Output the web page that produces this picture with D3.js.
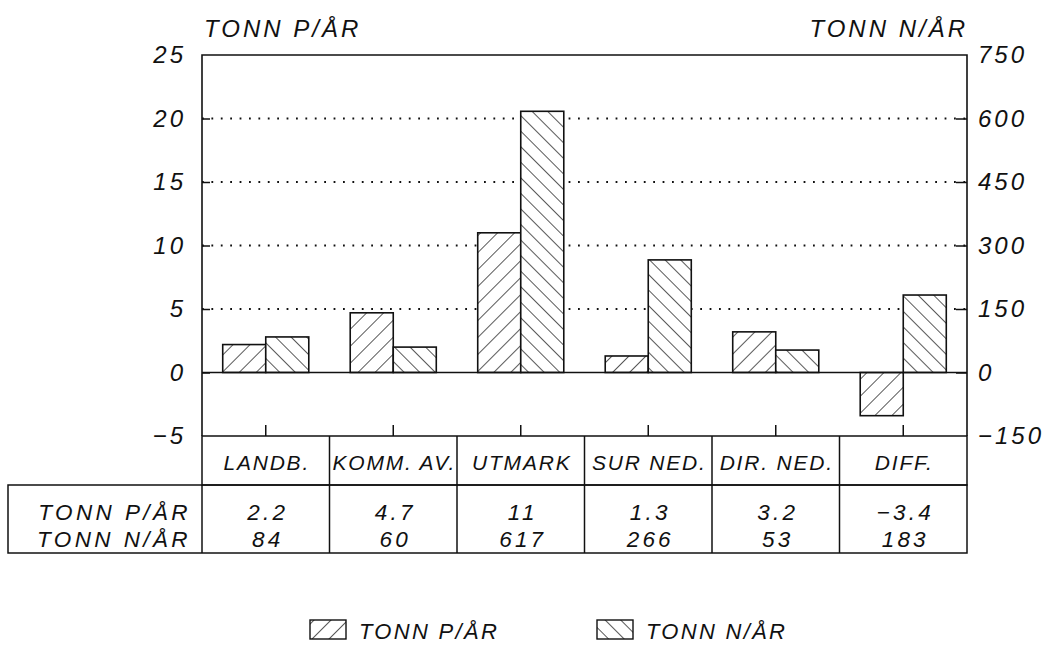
<!DOCTYPE html>
<html><head><meta charset="utf-8">
<script src="https://cdn.jsdelivr.net/npm/d3@7"></script>
<style>
body{margin:0;background:#fff;}
text{font-family:"Liberation Sans",Arial,sans-serif;font-style:italic;fill:#111;}
</style></head><body>
<svg id="c" width="1057" height="662"></svg>
<script>
const categories = ["LANDB.","KOMM. AV.","UTMARK","SUR NED.","DIR. NED.","DIFF."];
const seriesNames = ["TONN P/ÅR","TONN N/ÅR"];
const pValues = [2.2, 4.7, 11, 1.3, 3.2, -3.4];
const nValues = [84, 60, 617, 266, 53, 183];
const pLabels = ["2.2","4.7","11","1.3","3.2","−3.4"];
const nLabels = ["84","60","617","266","53","183"];
const pTicks = [-5,0,5,10,15,20,25];
const nTicks = [-150,0,150,300,450,600,750];
const gridTicks = [5,10,15,20];

const svg = d3.select("#c");
const L=202, R=967, T=55, B=436;
const yP = d3.scaleLinear().domain([-5,25]).range([B,T]);
const yN = d3.scaleLinear().domain([-150,750]).range([B,T]);
const x0 = d3.scaleBand().domain(categories).range([L,R]).paddingInner(0.325).paddingOuter(0.1625);
const x1 = d3.scaleBand().domain(["P","N"]).range([0,x0.bandwidth()]);
const step = x0.step();
const colLeft = d => x0(d) - x0.paddingInner()*step/2;

// patterns
const defs = svg.append("defs");
function hatch(id, angle, gap){
  const p = defs.append("pattern").attr("id",id).attr("patternUnits","userSpaceOnUse")
    .attr("width",gap).attr("height",gap).attr("patternTransform",`rotate(${angle})`);
  p.append("rect").attr("width",gap).attr("height",gap).attr("fill","#fff");
  p.append("line").attr("x1",0).attr("y1",-1).attr("x2",0).attr("y2",gap+1)
    .attr("stroke","#111").attr("stroke-width",1.4);
}
hatch("hp",45,12);
hatch("hn",-45,11);

// grid
svg.append("g").selectAll("line").data(gridTicks).join("line")
  .attr("x1",L).attr("x2",R).attr("y1",d=>yP(d)).attr("y2",d=>yP(d))
  .attr("stroke","#111").attr("stroke-width",1.8).attr("stroke-dasharray","1.8,7.6");

// bars
const g = svg.append("g");
const rows = categories.map((c,i)=>({c, p:pValues[i], n:nValues[i]}));
g.selectAll("rect.p").data(rows).join("rect").attr("class","p")
  .attr("x",d=>x0(d.c)+x1("P")).attr("width",x1.bandwidth())
  .attr("y",d=>yP(Math.max(0,d.p))).attr("height",d=>Math.abs(yP(d.p)-yP(0)))
  .attr("fill","url(#hp)").attr("stroke","#111").attr("stroke-width",1.6);
g.selectAll("rect.n").data(rows).join("rect").attr("class","n")
  .attr("x",d=>x0(d.c)+x1("N")).attr("width",x1.bandwidth())
  .attr("y",d=>yN(Math.max(0,d.n))).attr("height",d=>Math.abs(yN(d.n)-yN(0)))
  .attr("fill","url(#hn)").attr("stroke","#111").attr("stroke-width",1.6);

// zero line
svg.append("line").attr("x1",L).attr("x2",R).attr("y1",yP(0)).attr("y2",yP(0))
  .attr("stroke","#111").attr("stroke-width",1.6);

// axes
const fs = 24, ls = 3;
const axL = d3.axisLeft(yP).tickValues(pTicks).tickSize(-8).tickPadding(16)
  .tickFormat(d=> d<0 ? "−"+Math.abs(d) : d);
const gl = svg.append("g").attr("transform",`translate(${L},0)`).call(axL);
const axR = d3.axisRight(yN).tickValues(nTicks).tickSize(-11).tickPadding(11)
  .tickFormat(d=> d<0 ? "−"+Math.abs(d) : d);
const gr = svg.append("g").attr("transform",`translate(${R},0)`).call(axR);
[gl,gr].forEach(a=>{
  a.select(".domain").remove();
  a.selectAll(".tick line").attr("stroke","#111").attr("stroke-width",1.5);
  a.selectAll("text").style("font-size",fs+"px").style("letter-spacing",ls+"px")
    .style("font-family","Liberation Sans").style("font-style","italic").attr("fill","#111");
});
gr.selectAll(".tick").filter(d=>d===-150).select("line").remove();
gl.selectAll(".tick").filter(d=>d===-5||d===25).select("line").remove();
gr.selectAll(".tick").filter(d=>d===750).select("line").remove();

// bottom ticks
const axB = d3.axisBottom(x0).tickSize(-11).tickFormat("");
const gb = svg.append("g").attr("transform",`translate(0,${B})`).call(axB);
gb.select(".domain").remove();
gb.selectAll(".tick line").attr("stroke","#111").attr("stroke-width",1.5);

// frame
svg.append("path").attr("d",`M${L},${B}V${T}H${R}V${B}`).attr("fill","none").attr("stroke","#111").attr("stroke-width",1.6);

// titles
svg.append("text").attr("x",204).attr("y",37).text(seriesNames[0])
  .style("font-size",fs+"px").style("letter-spacing",ls+"px");
svg.append("text").attr("x",968).attr("y",37).attr("text-anchor","end").text(seriesNames[1])
  .style("font-size",fs+"px").style("letter-spacing",ls+"px");

// category table
const catB = 485, tabB = 553, tabL = 8;
svg.append("rect").attr("x",L).attr("y",B).attr("width",R-L).attr("height",catB-B)
  .attr("fill","none").attr("stroke","#111").attr("stroke-width",1.5);
svg.append("rect").attr("x",tabL).attr("y",catB).attr("width",R-tabL).attr("height",tabB-catB)
  .attr("fill","none").attr("stroke","#111").attr("stroke-width",1.5);
svg.append("line").attr("x1",L).attr("x2",L).attr("y1",catB).attr("y2",tabB).attr("stroke","#111").attr("stroke-width",1.5);
svg.append("g").selectAll("line").data(categories.slice(1)).join("line")
  .attr("x1",d=>colLeft(d)).attr("x2",d=>colLeft(d)).attr("y1",B).attr("y2",tabB)
  .attr("stroke","#111").attr("stroke-width",1.5);
svg.append("g").selectAll("text").data(categories).join("text")
  .attr("x",d=>x0(d)+x0.bandwidth()/2+1).attr("y",470).attr("text-anchor","middle")
  .style("font-size","21px").style("letter-spacing","1.8px").text(d=>d);

// data rows
const tfs = 22.5;
const rowY = [520, 547];
svg.append("g").selectAll("text").data(seriesNames).join("text")
  .attr("x",191).attr("y",(d,i)=>rowY[i]).attr("text-anchor","end")
  .style("font-size",tfs+"px").style("letter-spacing","3.4px").text(d=>d);
[pLabels,nLabels].forEach((lab,ri)=>{
  svg.append("g").selectAll("text").data(categories).join("text")
    .attr("x",d=>x0(d)+x0.bandwidth()/2+2).attr("y",rowY[ri]).attr("text-anchor","middle")
    .style("font-size",tfs+"px").style("letter-spacing","3.2px").text((d,i)=>lab[i]);
});

// legend
const leg = [{id:"hp",x:310,name:seriesNames[0]},{id:"hn",x:597,name:seriesNames[1]}];
const lg = svg.append("g").selectAll("g").data(leg).join("g");
lg.append("rect").attr("x",d=>d.x).attr("y",620).attr("width",36).attr("height",19)
  .attr("fill",d=>`url(#${d.id})`).attr("stroke","#111").attr("stroke-width",1.4);
lg.append("text").attr("x",d=>d.x+49).attr("y",639).text(d=>d.name)
  .style("font-size","22px").style("letter-spacing","2.3px");
</script></body></html>
